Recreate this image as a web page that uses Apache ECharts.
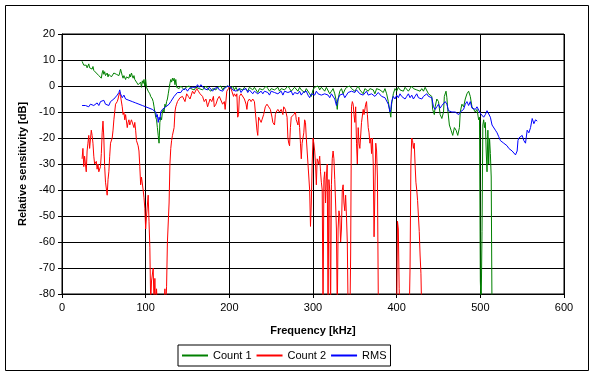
<!DOCTYPE html>
<html>
<head>
<meta charset="utf-8">
<script src="https://cdn.jsdelivr.net/npm/echarts@6/dist/echarts.min.js"></script>
<style>
html,body{margin:0;padding:0;background:#fff;}
#chart{width:594px;height:375px;}
</style>
</head>
<body>
<div id="chart"></div>
<script>
// Axis ticks
const xTicks = [0, 100, 200, 300, 400, 500, 600];
const yTicks = [-80, -70, -60, -50, -40, -30, -20, -10, 0, 10, 20];
const seriesNames = ['Count 1', 'Count 2', 'RMS'];

// Count 1 (green): [frequency kHz, relative sensitivity dB]
const count1Data = [
[24,9.5],[25,9],[26,8],[27,8.5],[28,7.5],[29,8],[30,7],[31,7.5],[32,8.5],[33,7],[34,7.5],[36,6.5],[37,7.5],[38,6],[40,6.5],[41,5],[42,4.5],[43,5.5],[44,4],[45,3.5],[46,4.5],[47,3],[48,5],[49,6],[50,4.5],[51,5.5],[52,4],[54,5],[55,3.5],[56,4.5],[57,4],[58,5],[59,3.5],[60,4],[62,5],[63,4.5],[64,5.5],[65,4.5],[66,5],[68,4],[69,5],[70,6.5],[71,6],[72,4],[73,3],[74,4],[76,2.5],[77,3.5],[78,3],[79,4],[80,3],[81,4.5],[82,3.5],[83,5],[84,4],[85,3],[86,4],[87,2.5],[88,3],[89,1.5],[90,2],[91,0.5],[92,1],[93,0],[94,1.5],[95,-0.5],[96,2],[97,1],[98,2.5],[99,0],[100,2.5],[101,-0.5],[102,-1],[103,-2],[104,-1.5],[105,-3],[106,-4],[107,-3.5],[108,-5],[109,-6],[110,-8],[111,-10],[112,-12],[113,-13],[114,-16],[115,-19],[116,-22],[117,-14],[118,-12],[119,-13],[120,-10],[121,-9],[122,-10],[123,-7],[124,-8],[125,-6],[126,-5],[127,-3],[128,-1],[129,1],[130,2.5],[131,1.5],[132,3],[133,2],[134,3],[135,0.5],[136,2.5],[137,-0.5],[138,-1],[140,-1],
[142,0],[144,-0.5],[146,-1.5],[148,-0.5],[150,-1],[152,0],[154,-1],[156,-0.5],[158,-1.5],[160,-0.5],[162,0],[164,-1],[166,-0.5],[168,-1.5],[170,-1],[172,0],[174,-1],[176,-0.5],[178,-2],[180,-1],[182,-0.5],[184,-1.5],[186,-0.5],[188,-1],[190,0],[192,-1.5],[194,-0.5],[196,-1],[198,0],[200,-0.5],[202,-1],[204,0],[206,-1.5],[208,-0.5],[210,-2],[212,-1],[214,-0.5],[216,-1.5],[218,-0.5],[220,-1],[222,-2],[224,-0.5],[226,-1],[228,-1.5],[230,-0.5],[232,-1],[234,-2.5],[236,-1],[238,-0.5],[240,-1.5],[242,-1],[244,0],[246,-1],[248,-2],[250,-1],[252,-0.5],[254,-1.5],[256,-1],[258,-0.5],[260,-2],[262,-1],[264,-0.5],[266,-1.5],[268,-1],[270,0],[272,-1],[274,-2],[276,-1.5],[278,-0.5],[280,-1],[282,-2],[284,-0.5],[286,-1.5],[288,-1],[290,-2.5],[292,-1],[294,-0.5],[296,-3],[298,-4],[300,-1.5],[302,-0.5],[304,-1],[306,0],[308,-1.5],[310,-0.5],[312,-1],[314,-2],[316,-0.5],[318,-1],[320,-3],[322,-2],[324,-1],[326,-3],[328,-6],[329,-9],[330,-5],[332,-2],[334,-1],[336,-3],[338,-1.5],[340,-0.5],[342,-1],[344,0],[346,-1],[348,-0.5],[350,-2],[352,-1],[354,0],[356,-1.5],[358,-1],[360,-3],[362,-1],[364,-0.5],[366,-2],[368,-1],[370,-0.5],[372,-1.5],[374,-3],[376,-1],[378,-0.5],[380,-1.5],[382,-1],[384,-2.5],[386,-1],[388,-3],[390,-6],[392,-10],[393,-12],[394,-7],[396,-3],[398,-1],[400,-2],[402,-0.5],[404,-1.5],[406,-1],[408,-2],[410,-0.5],[412,-1],[414,-2],[416,-1],[418,0],[420,-1],[422,-0.5],[424,-1.5],[426,-1],[428,-2],
[430,-1],[432,-2],[434,-0.5],[436,-1],[438,-3],[440,-2.5],[442,-4],[443,-9],[445,-11],[446,-8],[448,-5],[450,-6],[452,-11],[454,-12.5],[456,-10],[457,-4],[459,-2],[460,-4.5],[461,-9],[463,-15],[465,-17],[467,-19],[469,-16],[471,-17],[473,-19],[475,-16],[476,-10],[478,-7],[480,-8],[482,-5],[484,-3],[486,-2],[488,-4],[490,-8],[492,-9],[494,-10],[496,-9],[498,-13],[499,-12],[500,-75],[501,-85],[502,-56],[503,-15],[504,-13],[505,-16],[506,-14],[507,-25],[508,-33],[509,-17],[510,-30],[511,-20],[512,-26],[513,-35],[514,-90]
];

// Count 2 (red)
const count2Data = [
[24,-28],[25,-24],[26,-31],[27,-27],[29,-33],[30,-25],[31,-22],[32,-19],[33,-24],[35,-17],[36,-19],[37,-22],[38,-27],[39,-30],[41,-29],[42,-32],[43,-30],[44,-33],[46,-31],[47,-26],[48,-18],[49,-13.5],[50,-20],[51,-31],[52,-37],[54,-42],[55,-36],[56,-33],[57,-27],[58,-22],[60,-20],[61,-17],[62,-13],[63,-10],[64,-7],[66,-6],[67,-5],[68,-3.5],[69,-2.5],[70,-4],[72,-8],[73,-11],[74,-10],[75,-13],[76,-11],[78,-16],[79,-14],[80,-13],[81,-15],[82,-14],[83,-13],[85,-15],[86,-16],[87,-14],[88,-17],[89,-21],[91,-23],[92,-25],[93,-31],[94,-38],[95,-35],[97,-40],[98,-43],[99,-47],[100,-55],[101,-50],[103,-42],[104,-52],[105,-62],[106,-84],[107,-75],[109,-70],[110,-84],[111,-74],[112,-86],[113,-78],[115,-92],[118,-95],[121,-90],[123,-78],[124,-86],[125,-77],[126,-60],[128,-45],[129,-30],[130,-24],[131,-21],[132,-19],[134,-16],[135,-10],[136,-8],[137,-7],[138,-6],
[141,-4.5],[144,-4],[147,-6],[149,-3],[151,-4],[153,-5],[156,-2],[158,-3],[161,-1],[163,-2],[165,-3],[168,-4],[170,-6],[172,-5],[174,-8],[175,-7],[177,-5],[179,-6],[181,-4],[182,-8],[184,-7],[186,-5],[188,-4],[190,-4],[192,-7],[194,-6],[195,-9],[197,-2],[199,-1],[200,0],[202,-1],[203,-2],[205,-4],[206,-3],[208,-4],[209,-3],[210,-12],[211,-11],[212,-4],[214,-3],[216,-3],[218,-5],[220,-7],[221,-9],[222,-6],[224,-5],[226,-6],[228,-5],[230,-6],[232,-6],[233,-17],[234,-19],[235,-12],[236,-12],[238,-14],[239,-13],[241,-11],[243,-8],[245,-7],[247,-8],[249,-9],[251,-12],[252,-14],[254,-15],[255,-11],[256,-10],[258,-9],[260,-10],[262,-9],[264,-11],[265,-8],[267,-9],[269,-12],[270,-20],[271,-22],[272,-23],[273,-16],[274,-12],[275,-12],[277,-11],[279,-10],[280,-13],[282,-15],[283,-12],[284,-16],[285,-22],[286,-28],[287,-22],[289,-18],[290,-13],[291,-14],[292,-20],[293,-25],[295,-35],[296,-40],[297,-54],[298,-45],[299,-30],[300,-20],[301,-22],[302,-25],[303,-30],[304,-38],[305,-28],[307,-30],[308,-27],[309,-33],[310,-37],[311,-40],[312,-88],[313,-36],[314,-33],[315,-45],[316,-35],[317,-30],[318,-88],[319,-36],[320,-40],[321,-88],[322,-38],[323,-28],[324,-25],[325,-28],[326,-36],[327,-45],[328,-55],[329,-88],[330,-55],[331,-48],[332,-50],[333,-60],[334,-55],[335,-40],[336,-38],[337,-45],[338,-48],[339,-42],[340,-50],[341,-60],[342,-88],[344,-92],[345,-65],[346,-8],[347,-6],[348,-7],[349,-11],[350,-14],[351,-8],[352,-22],[353,-30],[354,-16],[355,-22],[356,-24],[358,-14],[360,-9],[361,-11],[363,-7],[364,-6],[365,-11],[366,-16],[367,-18],[368,-22],[369,-20],[370,-26],[371,-20],[372,-30],[373,-58],[374,-40],[375,-22],[376,-25],[377,-35],[378,-80],[379,-95],[390,-100],[400,-90],[401,-52],[402,-55],[403,-78],[404,-90],[410,-100],[415,-88],[416,-70],[417,-30],[418,-20],[419,-21],[420,-24],[421,-22],[422,-30],[423,-37],[424,-40],[425,-44],[426,-50],[427,-56],[428,-65],[429,-72],[430,-88]
];

// RMS (blue)
const rmsData = [
[24,-7.5],[26,-7],[28,-7.5],[30,-7],[32,-8],[34,-7],[36,-6.5],[38,-7.5],[40,-7],[42,-6.5],[44,-7.5],[46,-6],[48,-6.5],[50,-5.5],[52,-7],[54,-6.5],[56,-7.5],[58,-6],[60,-6.5],[62,-5],[64,-5.5],[66,-3.5],[68,-2.5],[69,-1.5],[70,-3],[72,-4.5],[74,-3.5],[76,-5],[78,-4.5],[80,-5.5],[82,-5],[84,-6],[86,-5.5],[88,-6.5],[90,-6],[92,-7],[94,-6.5],[96,-7.5],[98,-7],[100,-8],[102,-7.5],[104,-8.5],[106,-8],[108,-9],[110,-8.5],[112,-10],[113,-12],[114,-11],[115,-14],[116,-12],[117,-13],[118,-10],[120,-9],[122,-9.5],[124,-8],[126,-8.5],[128,-7],[130,-6],[132,-5],[134,-4],[136,-3.5],[138,-2.5],[140,-2],[142,-2.5],[144,-1.5],[146,-2],
[148,-1],[150,-2],[152,-1],[154,-1.5],[156,-0.5],[158,-1],[160,-0.5],[162,0.5],[164,-0.5],[166,0.5],[168,0],[170,-1],[172,-0.5],[174,-1.5],[176,-0.5],[178,-1],[180,-2],[182,-1],[184,-1.5],[186,-0.5],[188,-1.5],[190,-1],[192,-2],[194,-1],[196,-0.5],[198,0],[200,0.5],[202,-0.5],[204,-1.5],[206,-1],[208,-2],[210,-1.5],[212,-1],[214,-2.5],[216,-1.5],[218,-2],[220,-1],[222,-2.5],[224,-1.5],[226,-2],[228,-3],[230,-2],[232,-1.5],[234,-3],[236,-2.5],[238,-2],[240,-3],[242,-2],[244,-1.5],[246,-2.5],[248,-3.5],[250,-2],[252,-1.5],[254,-2.5],[256,-2],[258,-3],[260,-2.5],[262,-2],[264,-3.5],[266,-2],[268,-1.5],[270,-2.5],[272,-3],[274,-2],[276,-3.5],[278,-2.5],[280,-2],[282,-3],[284,-2],[286,-3.5],[288,-2.5],[290,-3],[292,-2],[294,-3.5],[296,-4.5],[298,-3],[300,-2.5],[302,-3.5],[304,-2],[306,-3],[308,-2.5],[310,-3.5],[312,-4],[314,-3],[316,-2.5],[318,-3.5],[320,-4.5],[322,-3],[324,-3.5],[326,-5],[328,-7.5],[330,-5],[332,-3.5],[334,-4],[336,-3],[338,-4.5],[340,-3.5],[342,-2.5],[344,-3],[346,-2],[348,-1.5],[350,-2.5],[352,-1.5],[354,-2],[356,-3],[358,-2.5],[360,-3.5],[362,-3],[364,-2],[366,-3.5],[368,-4],[370,-3],[372,-2.5],[374,-4],[376,-3.5],[378,-2.5],[380,-3],[382,-4],[384,-3.5],[386,-4.5],[388,-5],[390,-7],[392,-10],[393,-9],[394,-6],[396,-4],[398,-5],[400,-3.5],[402,-4.5],[404,-3],[406,-4],[408,-3.5],[410,-5],[412,-4],[414,-3],[416,-4.5],[418,-3.5],[420,-5],[422,-4],[424,-3],[426,-4.5],[428,-4],
[430,-5],[432,-4],[434,-3.5],[436,-3],[438,-4],[440,-3.5],[442,-4.5],[444,-8],[446,-9],[448,-8],[450,-7],[452,-8.5],[454,-7.5],[456,-8],[458,-6],[460,-7],[462,-9.5],[464,-9],[466,-10],[468,-9.5],[470,-10],[472,-10.5],[474,-11],[476,-10],[478,-9.5],[480,-9],[482,-7],[484,-6],[486,-7.5],[488,-6],[490,-8.5],[492,-8],[494,-9],[496,-8],[498,-7.5],[500,-10.5],[502,-11],[504,-12],[506,-11],[508,-9.5],[510,-10],[512,-12],[514,-15],[516,-15.5],[518,-17],[520,-18],[522,-19.5],[524,-21],[526,-21],[528,-22],[530,-21.5],[532,-23],[534,-24],[536,-23.5],[538,-25],[540,-25.5],[542,-26.5],[544,-25],[545,-21],[546,-20],[548,-19.5],[550,-19],[552,-21],[554,-22],[556,-17],[558,-18],[560,-16],[562,-12.5],[564,-14.5],[566,-13],[568,-13.5]
];

const FONT = "'Liberation Sans', Arial, sans-serif";
const chart = echarts.init(document.getElementById('chart'), null, {renderer: 'canvas'});

function lineSeries(name, data, color) {
  return {
    name: name, type: 'line', data: data,
    symbol: 'none', showSymbol: false, clip: true,
    legendIcon: 'rect',
    lineStyle: {color: color, width: 1},
    itemStyle: {color: color},
    emphasis: {disabled: true},
    animation: false
  };
}

chart.setOption({
  animation: false,
  backgroundColor: '#fff',
  textStyle: {fontFamily: FONT, color: '#000'},
  graphic: [{
    type: 'rect', shape: {x: 5.5, y: 5.5, width: 583, height: 365},
    style: {fill: 'none', stroke: '#000', lineWidth: 1}, silent: true, z: -1
  }],
  grid: {left: 62, right: 30, top: 34, bottom: 81, show: true, borderColor: '#000', borderWidth: 1, backgroundColor: '#fff'},
  xAxis: {
    type: 'value', min: xTicks[0], max: xTicks[xTicks.length - 1], interval: 100,
    name: 'Frequency [kHz]', nameLocation: 'middle', nameGap: 31,
    nameTextStyle: {fontFamily: FONT, fontSize: 11, fontWeight: 'bold', color: '#000'},
    axisLine: {show: true, onZero: false, lineStyle: {color: '#000', width: 1}},
    axisTick: {show: true, inside: false, length: 4, lineStyle: {color: '#000'}},
    axisLabel: {fontFamily: FONT, fontSize: 11, color: '#000', margin: 8},
    splitLine: {show: true, lineStyle: {color: '#000', width: 1}}
  },
  yAxis: {
    type: 'value', min: yTicks[0], max: yTicks[yTicks.length - 1], interval: 10,
    name: 'Relative sensitivity [dB]', nameLocation: 'middle', nameGap: 31, nameRotate: 90,
    nameTextStyle: {fontFamily: FONT, fontSize: 11, fontWeight: 'bold', color: '#000'},
    axisLine: {show: true, onZero: false, lineStyle: {color: '#000', width: 1}},
    axisTick: {show: true, inside: false, length: 4, lineStyle: {color: '#000'}},
    axisLabel: {fontFamily: FONT, fontSize: 11, color: '#000', margin: 7},
    splitLine: {show: true, lineStyle: {color: '#000', width: 1}}
  },
  legend: {
    data: seriesNames, left: 178, top: 345,
    orient: 'horizontal', icon: 'rect', itemWidth: 26, itemHeight: 2, itemGap: 5,
    padding: [4, 4], borderColor: '#000', borderWidth: 1,
    textStyle: {fontFamily: FONT, fontSize: 11, color: '#000', lineHeight: 13},
    selectedMode: false
  },
  series: [
    lineSeries(seriesNames[0], count1Data, '#008000'),
    lineSeries(seriesNames[1], count2Data, '#FF0000'),
    lineSeries(seriesNames[2], rmsData, '#0000FF')
  ]
});
</script>
</body>
</html>
